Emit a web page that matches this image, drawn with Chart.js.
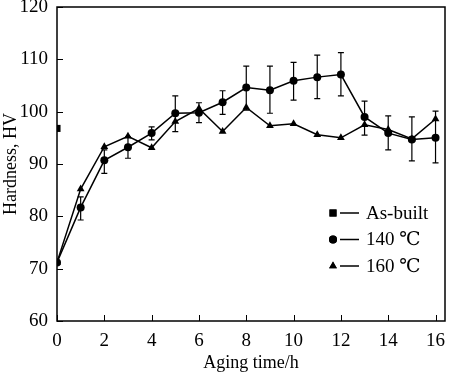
<!DOCTYPE html>
<html>
<head>
<meta charset="utf-8">
<script src="https://cdn.jsdelivr.net/npm/chart.js@4.4.1/dist/chart.umd.min.js"></script>
<style>
  html, body { margin: 0; padding: 0; background: #fff; }
  #wrap { width: 450px; height: 374px; position: relative; }
</style>
</head>
<body>
<div id="wrap"><canvas id="hardnessChart"></canvas></div>
<script>
// Daten
const hours = [0, 1, 2, 3, 4, 5, 6, 7, 8, 9, 10, 11, 12, 13, 14, 15, 16];
const asBuilt = [96.8];
const hv140 = [71.2, 81.7, 90.7, 93.2, 95.9, 99.7, 99.8, 101.8, 104.6, 104.1, 105.9, 106.6, 107.1, 99.0, 95.9, 94.7, 95.0];
const hv160 = [71.2, 85.2, 93.3, 95.3, 93.1, 98.1, 100.6, 96.2, 100.8, 97.3, 97.7, 95.6, 95.0, 97.5, 96.6, 94.8, 98.6];
// Fehlerbalken 140 °C (untere / obere Grenze)
const err140Low = [null, 79.3, 88.2, 91.1, 94.6, 96.2, 97.9, 99.5, 100.3, 99.7, 102.2, 102.5, 103.0, 95.5, 92.7, 90.6, 90.2];
const err140High = [null, 83.7, 92.7, 95.2, 97.1, 103.0, 101.7, 104.0, 108.7, 108.7, 109.4, 110.8, 111.3, 102.0, 99.2, 99.0, 100.1];
const xTicks = [0, 2, 4, 6, 8, 10, 12, 14, 16];
const yTicks = [60, 70, 80, 90, 100, 110, 120];
const seriesLabels = ["As-built", "140 ℃", "160 ℃"];

const FONT = "'Liberation Serif', 'DejaVu Serif', serif";

const toPoints = (ys) => ys.map((y, i) => ({ x: hours[i], y: y }));

// Rahmen, nach innen zeigende Ticks, Fehlerbalken und Legende
const framePlugin = {
  id: "frame",
  afterDatasetsDraw(chart) {
    const { ctx, chartArea: a, scales } = chart;
    ctx.save();
    ctx.strokeStyle = "#000";

    // Fehlerbalken
    const xs = scales.x, ys = scales.y;
    ctx.lineWidth = 1.2;
    hours.forEach((h, i) => {
      if (err140Low[i] == null) return;
      const px = xs.getPixelForValue(h);
      const lo = ys.getPixelForValue(err140Low[i]);
      const hi = ys.getPixelForValue(err140High[i]);
      ctx.beginPath();
      ctx.moveTo(px, lo); ctx.lineTo(px, hi);
      ctx.moveTo(px - 3, lo); ctx.lineTo(px + 3, lo);
      ctx.moveTo(px - 3, hi); ctx.lineTo(px + 3, hi);
      ctx.stroke();
    });

    ctx.lineWidth = 1.5;
    ctx.strokeRect(a.left, a.top, a.right - a.left, a.bottom - a.top);

    ctx.lineWidth = 1;
    xTicks.forEach(t => {
      const px = Math.round(xs.getPixelForValue(t)) + 0.5;
      ctx.beginPath();
      ctx.moveTo(px, a.bottom); ctx.lineTo(px, a.bottom - 6);
      ctx.stroke();
    });
    yTicks.forEach(t => {
      const py = Math.round(ys.getPixelForValue(t)) + 0.5;
      ctx.beginPath();
      ctx.moveTo(a.left, py); ctx.lineTo(a.left + 6, py);
      ctx.stroke();
    });

    // Legende im Diagrammbereich
    const styles = ["rect", "circle", "triangle"];
    const radii = [5, 4, 4.5];
    ctx.font = "19px " + FONT;
    ctx.fillStyle = "#000";
    ctx.textBaseline = "middle";
    seriesLabels.forEach((label, i) => {
      const y = 213 + i * 26.5;
      Chart.helpers.drawPoint(ctx, { pointStyle: styles[i], radius: radii[i], rotation: 0, borderWidth: 0 }, 333, y);
      ctx.fill();
      ctx.lineWidth = 1.5;
      ctx.beginPath();
      ctx.moveTo(340, y); ctx.lineTo(359, y);
      ctx.stroke();
      ctx.fillText(label, 366, y + 1);
    });
    ctx.restore();
  }
};

new Chart(document.getElementById("hardnessChart"), {
  type: "line",
  data: {
    datasets: [
      {
        label: seriesLabels[0],
        data: asBuilt.map(y => ({ x: 0, y: y })),
        pointStyle: "rect",
        pointRadius: 5,
        pointBorderWidth: 0,
        backgroundColor: "#000",
        borderColor: "#000",
        showLine: false
      },
      {
        label: seriesLabels[1],
        data: toPoints(hv140),
        pointStyle: "circle",
        pointRadius: 4,
        pointBorderWidth: 0,
        backgroundColor: "#000",
        borderColor: "#000",
        borderWidth: 1.5
      },
      {
        label: seriesLabels[2],
        data: toPoints(hv160),
        pointStyle: "triangle",
        pointRadius: 4.5,
        pointBorderWidth: 0,
        backgroundColor: "#000",
        borderColor: "#000",
        borderWidth: 1.5
      }
    ]
  },
  options: {
    responsive: true,
    maintainAspectRatio: false,
    animation: false,
    layout: { padding: { top: 7, right: 2, left: 0, bottom: 0 } },
    plugins: {
      legend: { display: false },
      tooltip: { enabled: false }
    },
    scales: {
      x: {
        type: "linear",
        min: 0,
        max: 16.4,
        afterBuildTicks: (scale) => { scale.ticks = xTicks.map(v => ({ value: v })); },
        grid: { display: false },
        border: { display: false },
        ticks: { color: "#000", font: { family: FONT, size: 19 }, padding: 1, maxRotation: 0 },
        title: { display: true, text: "Aging time/h", color: "#000", font: { family: FONT, size: 18 }, padding: { top: 0, bottom: 0 } },
        afterFit: (scale) => { scale.height = 53; scale.paddingLeft = 0; scale.paddingRight = 0; }
      },
      y: {
        min: 60,
        max: 120,
        afterBuildTicks: (scale) => { scale.ticks = yTicks.map(v => ({ value: v })); },
        grid: { display: false },
        border: { display: false },
        ticks: { color: "#000", font: { family: FONT, size: 19 }, padding: 1 },
        title: { display: true, text: "Hardness, HV", color: "#000", font: { family: FONT, size: 18 }, padding: { top: 0, bottom: 0 } },
        afterFit: (scale) => { scale.width = 57; scale.paddingTop = 0; scale.paddingBottom = 0; }
      }
    }
  },
  plugins: [framePlugin]
});
</script>
</body>
</html>
